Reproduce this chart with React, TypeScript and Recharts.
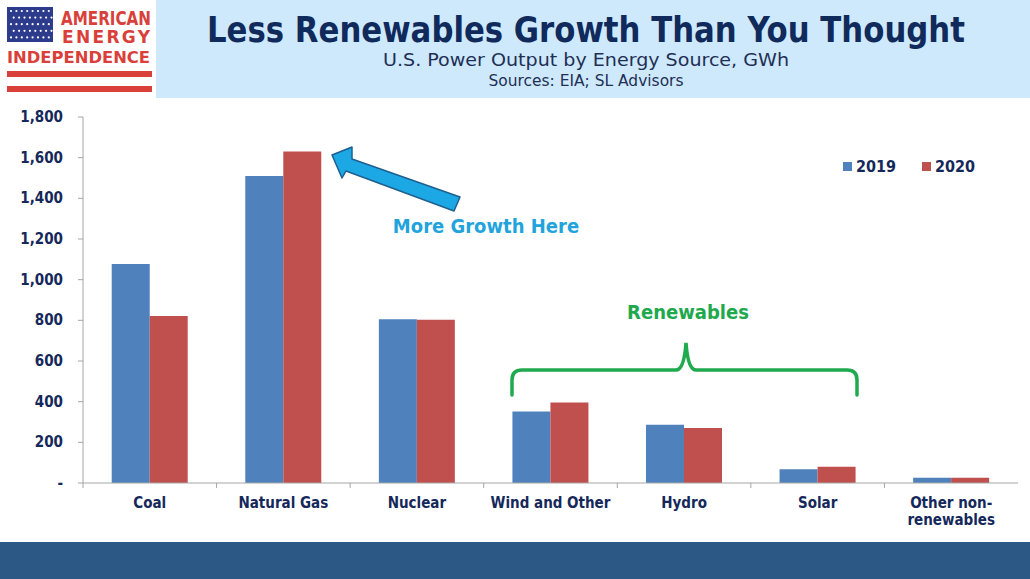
import { BarChart, Bar, XAxis, YAxis, Legend } from "recharts";

const categories = [
  "Coal",
  "Natural Gas",
  "Nuclear",
  "Wind and Other",
  "Hydro",
  "Solar",
  "Other non-renewables",
];
const output2019 = [1077, 1510, 805, 352, 286, 68, 26];
const output2020 = [821, 1630, 803, 396, 270, 80, 26];
const yTicks = [0, 200, 400, 600, 800, 1000, 1200, 1400, 1600, 1800];

const data = categories.map((name, i) => ({
  name,
  y2019: output2019[i],
  y2020: output2020[i],
}));

const W = 1030;
const H = 579;
const margin = { top: 117, right: 12, bottom: 56, left: 23 };
const Y_AXIS_W = 60;
const X_AXIS_H = 40;
const plotW = W - margin.left - Y_AXIS_W - margin.right;
const step = plotW / categories.length;

const NAVY = "#15285a";
const BLUE = "#4f81bd";
const RED = "#c0504d";
const AXIS = "#a6a6a6";
const FONT = "'DejaVu Sans Condensed', 'DejaVu Sans', sans-serif";

function YTick(props: any) {
  const { x, y, payload } = props;
  const v = payload.value as number;
  const label = v === 0 ? "-" : v.toLocaleString("en-US");
  return (
    <text x={x} y={y} dy={5} textAnchor="end" fill={NAVY} fontFamily={FONT} fontWeight="bold" fontSize={15}>
      {label}
    </text>
  );
}

function XTick(props: any) {
  const { x, y, payload } = props;
  const lines = String(payload.value).replace("non-", "non-\n").split("\n");
  return (
    <g>
      <line x1={x - step / 2} x2={x - step / 2} y1={y} y2={y + 5} stroke={AXIS} />
      {lines.map((ln, i) => (
        <text
          key={i}
          x={x}
          y={y + 25 + i * 17}
          textAnchor="middle"
          fill={NAVY}
          fontFamily={FONT}
          fontWeight="bold"
          fontSize={15}
        >
          {ln}
        </text>
      ))}
    </g>
  );
}

function LegendBox() {
  const items = [
    { label: "2019", color: BLUE },
    { label: "2020", color: RED },
  ];
  return (
    <div style={{ display: "flex", gap: 26, fontFamily: FONT, fontWeight: "bold", fontSize: 16, color: NAVY }}>
      {items.map((it) => (
        <div key={it.label} style={{ display: "flex", alignItems: "center", gap: 4 }}>
          <span style={{ width: 9, height: 9, background: it.color, display: "inline-block" }} />
          <span>{it.label}</span>
        </div>
      ))}
    </div>
  );
}

function Logo() {
  const stars = [];
  for (let r = 0; r < 5; r++) {
    for (let c = 0; c < 8; c++) {
      stars.push(
        <circle key={`${r}-${c}`} cx={11 + c * 5.4 + (r % 2) * 2.7} cy={11 + r * 6.6} r={1.1} fill="#ffffff" />
      );
    }
  }
  const red = "#d9403a";
  return (
    <g>
      <rect x={0} y={0} width={156} height={98} fill="#ffffff" />
      <rect x={7} y={7} width={46} height={35} fill="#2c3b8c" />
      {stars}
      <text x={61} y={25} textLength={90} lengthAdjust="spacingAndGlyphs" fill={red} fontFamily="'DejaVu Sans', sans-serif" fontWeight="bold" fontSize={19}>
        AMERICAN
      </text>
      <text x={62} y={43} textLength={88} lengthAdjust="spacing" fill={red} fontFamily="'DejaVu Sans', sans-serif" fontWeight="bold" fontSize={17}>
        ENERGY
      </text>
      <text x={7} y={63} textLength={143} lengthAdjust="spacingAndGlyphs" fill={red} fontFamily="'DejaVu Sans', sans-serif" fontWeight="bold" fontSize={16}>
        INDEPENDENCE
      </text>
      <rect x={7} y={71} width={145} height={6} fill={red} />
      <rect x={7} y={86} width={145} height={6} fill={red} />
    </g>
  );
}

function Overlay() {
  return (
    <svg width={W} height={H} style={{ position: "absolute", left: 0, top: 0, pointerEvents: "none" }}>
      <rect x={156} y={0} width={W - 156} height={98} fill="#cde9fb" />
      <Logo />
      <text x={586} y={42} textAnchor="middle" textLength={758} lengthAdjust="spacingAndGlyphs" fill="#102a5c" fontFamily={FONT} fontWeight="bold" fontSize={36}>
        Less Renewables Growth Than You Thought
      </text>
      <text x={586} y={66} textAnchor="middle" textLength={406} lengthAdjust="spacingAndGlyphs" fill="#1f2f55" fontFamily={FONT} fontSize={17}>
        U.S. Power Output by Energy Source, GWh
      </text>
      <text x={586} y={86} textAnchor="middle" textLength={195} lengthAdjust="spacingAndGlyphs" fill="#1f2f55" fontFamily={FONT} fontSize={15}>
        Sources: EIA; SL Advisors
      </text>
      <rect x={0} y={542} width={W} height={H - 542} fill="#2b5885" />
      <polygon
        points="332,155 352,147 352,159 460,197 454,211 346,171 342,178"
        fill="#1ca8e4"
        stroke="#1e5f8f"
        strokeWidth={1.5}
        strokeLinejoin="round"
      />
      <text x={486} y={233} textAnchor="middle" fill="#22a3dc" fontFamily={FONT} fontWeight="bold" fontSize={20}>
        More Growth Here
      </text>
      <text x={688} y={319} textAnchor="middle" fill="#20a84c" fontFamily={FONT} fontWeight="bold" fontSize={20}>
        Renewables
      </text>
      <path
        d="M512,395 L512,380 Q512,370 522,370 L676,370 Q684,370 686,343 Q688,370 696,370 L847,370 Q857,370 857,380 L857,395"
        fill="none"
        stroke="#20aa4f"
        strokeWidth={3.5}
        strokeLinecap="round"
      />
    </svg>
  );
}

export default function App() {
  return (
    <div style={{ position: "absolute", left: 0, top: 0, width: W, height: H, background: "#ffffff" }}>
      <BarChart width={W} height={H} data={data} margin={margin} barCategoryGap="21.5%" barGap={0}>
        <XAxis
          dataKey="name"
          height={X_AXIS_H}
          stroke={AXIS}
          tickLine={false}
          tickSize={0}
          tickMargin={0}
          interval={0}
          tick={<XTick />}
        />
        <YAxis
          width={Y_AXIS_W}
          domain={[0, 1800]}
          ticks={yTicks}
          stroke={AXIS}
          tickSize={5}
          tickMargin={15}
          tick={<YTick />}
        />
        <Legend
          layout="horizontal"
          verticalAlign="middle"
          align="center"
          content={<LegendBox />}
          wrapperStyle={{ position: "absolute", left: 843, top: 157, width: "auto", height: "auto" }}
        />
        <Bar dataKey="y2019" name="2019" fill={BLUE} isAnimationActive={false} />
        <Bar dataKey="y2020" name="2020" fill={RED} isAnimationActive={false} />
      </BarChart>
      <Overlay />
    </div>
  );
}
